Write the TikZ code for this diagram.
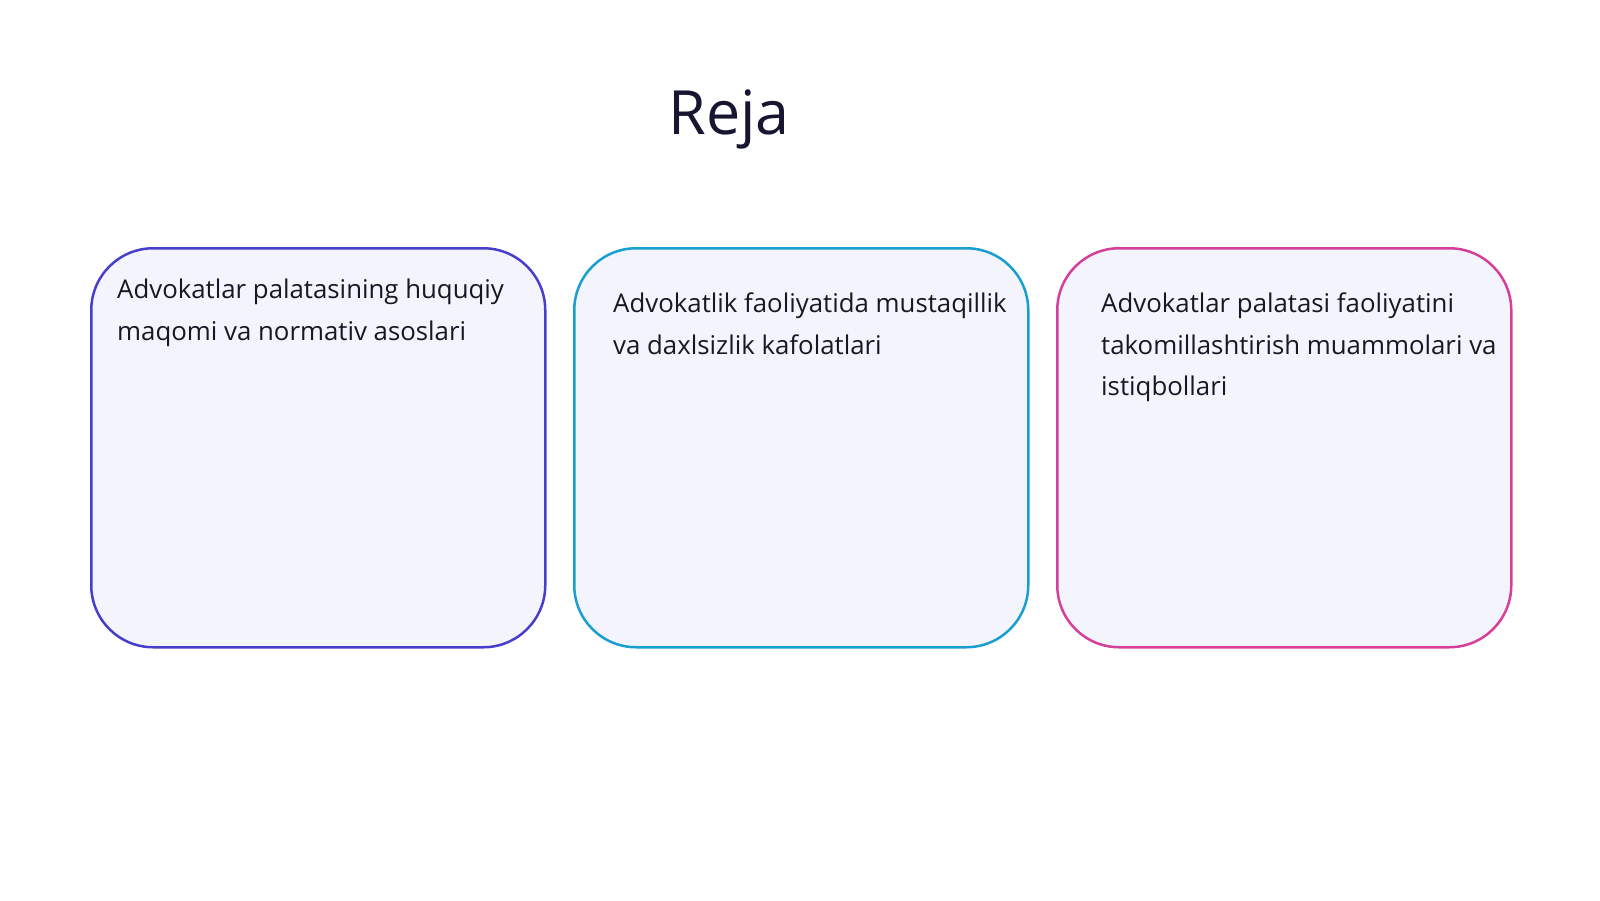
\documentclass[tikz,border=0pt]{standalone}
\usepackage{fontspec}
\setmainfont{Open Sans}
\definecolor{titlec}{RGB}{22,22,48}
\definecolor{textc}{RGB}{24,24,36}
\definecolor{cA}{RGB}{72,62,204}
\definecolor{cB}{RGB}{24,158,208}
\definecolor{cC}{RGB}{214,62,156}
\definecolor{cardfill}{RGB}{244,244,252}
\begin{document}
\begin{tikzpicture}[x=1pt,y=-1pt,
  card/.style={rectangle, rounded corners=62pt, line width=2.5pt, fill=cardfill,
    minimum width=454pt, minimum height=399pt, inner sep=0pt, anchor=north west},
  txt/.style={anchor=north west, inner sep=0pt, align=left, text=textc,
    font=\fontsize{25.8}{41.5}\selectfont}]
\useasboundingbox[fill=white] (0,0) rectangle (1600,900);
\node[anchor=base, text=titlec, font=\fontsize{61}{72}\selectfont, inner sep=0pt] (title) at (729,134) {Reja};
\node[card, draw=cA] (b1) at (90,247) {};
\node[card, draw=cB] (b2) at (573,247) {};
\node[card, draw=cC] (b3) at (1056,247) {};
\node[txt] (t1) at (117,279) {Advokatlar palatasining huquqiy\\maqomi va normativ asoslari};
\node[txt] (t2) at (613,293) {Advokatlik faoliyatida mustaqillik\\va daxlsizlik kafolatlari};
\node[txt] (t3) at (1101,293) {Advokatlar palatasi faoliyatini\\takomillashtirish muammolari va\\istiqbollari};
\end{tikzpicture}
\end{document}
